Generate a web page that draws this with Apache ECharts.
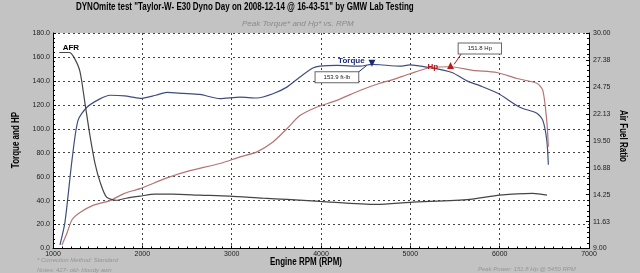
<!DOCTYPE html>
<html><head><meta charset="utf-8">
<script src="https://cdn.jsdelivr.net/npm/echarts@6/dist/echarts.min.js"></script>
<style>html,body{margin:0;padding:0;background:#c3c3c3}#c{width:640px;height:273px}</style>
</head><body><div id="c"></div>
<script>
const torqueRpm = [1078,1134,1213,1280,1380,1526,1638,1800,1974,2150,2276,2455,2645,2869,3093,3283,3462,3618,3764,3909,3988,4178,4435,4570,4659,4883,4995,5219,5465,5633,5778,5980,6226,6416,6483,6528,6545];
const torque    = [3,22,74,107,118,125,128,127.5,125.4,128,130.4,129.6,128.7,125.2,126.5,125.7,129.3,134.8,143.2,150.7,152.3,152.9,152.3,153.8,153.5,152.3,153.3,151,147,140,136,129.6,118,113,107,90,70];
const hpRpm = [1100,1157,1213,1302,1448,1638,1800,1974,2276,2533,2869,3093,3283,3462,3618,3764,3950,4178,4435,4659,4804,4995,5219,5450,5700,5968,6192,6416,6483,6528,6545];
const hp    = [3,13,24,30,36,40,46,50,59,65,71,76.5,80.7,89,100,111,118,123.75,132,138,141,146,151,151.8,148.75,147,142,138,132,106,85];
const afrRpm = [1070,1180,1230,1300,1358,1410,1470,1530,1600,1710,1820,1974,2140,2340,2645,2980,3350,3620,3988,4625,4995,5665,6000,6370,6530];
const afr    = [28.1,28.1,27.7,26.3,23.15,20.2,17.3,15.4,14.0,13.7,13.9,14.1,14.3,14.3,14.2,14.1,13.9,13.78,13.6,13.3,13.5,13.78,14.2,14.37,14.2];
const rpmTicks = [1000,2000,3000,4000,5000,6000,7000];
const peakTorque = {rpm: 4570, value: 153.8, label: '153.9 ft-lb'};
const peakHp = {rpm: 5450, value: 151.8, label: '151.8 Hp'};

const zip = (a,b) => a.map((x,i)=>[x,b[i]]);
const F = 'Liberation Sans';
const chart = echarts.init(document.getElementById('c'), null, {renderer:'canvas'});
const dotted = {show:true, lineStyle:{color:'#444', type:[2,3], width:1}};
const narrowBold = (text, x, y, rot, align) => ({type:'text', x, y, rotation:rot||0, scaleX:0.8,
  style:{text, fontFamily:F, fontWeight:'bold', fontSize:10, fill:'#000', textAlign:align||'center', textVerticalAlign:'middle'}});
chart.setOption({
  animation:false,
  backgroundColor:'#c3c3c3',
  textStyle:{fontFamily:F},
  graphic:[
    narrowBold('DYNOmite test "Taylor-W- E30 Dyno Day on 2008-12-14 @ 16-43-51" by GMW Lab Testing', 76, 7, 0, 'left'),
    narrowBold('Engine RPM (RPM)', 306, 262),
    narrowBold('Torque and HP', 16, 140, Math.PI/2),
    narrowBold('Air Fuel Ratio', 623, 136, -Math.PI/2)
  ],
  title:[
    {text:'Peak Torque* and Hp* vs. RPM', left:237, top:15,
     textStyle:{fontFamily:F, fontStyle:'italic', fontWeight:'normal', fontSize:8, color:'#8a8a8a'}},
    {text:'* Correction Method: Standard', left:32, top:252,
     textStyle:{fontFamily:F, fontStyle:'italic', fontWeight:'normal', fontSize:6, color:'#959595'}},
    {text:'Notes: 427- old- bloody awn', left:32, top:262,
     textStyle:{fontFamily:F, fontStyle:'italic', fontWeight:'normal', fontSize:6, color:'#959595'}},
    {text:'Peak Power: 151.8 Hp @ 5450 RPM', left:473, top:261,
     textStyle:{fontFamily:F, fontStyle:'italic', fontWeight:'normal', fontSize:6, color:'#959595'}}
  ],
  grid:{left:53, right:51, top:33, bottom:24.5, show:true, backgroundColor:'#fff', borderWidth:0},
  xAxis:{type:'value', min:1000, max:7000, interval:1000,
    axisLine:{lineStyle:{color:'#000'}}, axisTick:{show:true, length:3, inside:true, lineStyle:{color:'#000'}},
    minorTick:{show:true, splitNumber:10, length:2},
    axisLabel:{fontSize:7, color:'#222', margin:2, formatter:v=>String(v)},
    splitLine:dotted},
  yAxis:[
    {type:'value', min:0, max:180, interval:20, position:'left',
     axisLine:{show:true, lineStyle:{color:'#000'}}, axisTick:{show:true, length:3, inside:true, lineStyle:{color:'#000'}},
     minorTick:{show:true, splitNumber:5, length:2},
     axisLabel:{fontSize:7, color:'#222', margin:3, formatter:v=>v.toFixed(1)},
     splitLine:dotted},
    {type:'value', min:9, max:30, interval:2.625, position:'right',
     axisLine:{show:true, lineStyle:{color:'#000'}}, axisTick:{show:true, length:3, inside:true, lineStyle:{color:'#000'}},
     minorTick:{show:true, splitNumber:5, length:2},
     axisLabel:{fontSize:7, color:'#222', margin:4, formatter:v=>v.toFixed(2)},
     splitLine:{show:false}}
  ],
  series:[
    {name:'Torque', type:'line', yAxisIndex:0, data:zip(torqueRpm,torque), smooth:0.25, showSymbol:false,
     lineStyle:{color:'#3f4d7e', width:1.2}, itemStyle:{color:'#3f4d7e'},
     markPoint:{symbol:'triangle', symbolSize:7, symbolRotate:180, itemStyle:{color:'#1c2a7a'},
       data:[
         {coord:[peakTorque.rpm, peakTorque.value+1], label:{show:false}},
         {coord:[4340,157], symbolSize:0, label:{show:true, formatter:'Torque', color:'#1c2a7a', fontWeight:'bold', fontSize:8, fontFamily:F}},
         {coord:[4178,143], symbolSize:0, label:{show:true, formatter:peakTorque.label, color:'#222', fontSize:6, fontFamily:F,
           backgroundColor:'#fff', borderColor:'#666', borderWidth:1, padding:[2,8,2,8]}}
       ]},
     markLine:{silent:true, symbol:'none', label:{show:false}, lineStyle:{color:'#1c2a7a', type:'solid', width:1},
       data:[[{coord:[4380,145]},{coord:[peakTorque.rpm-60,peakTorque.value-1]}]]}
    },
    {name:'Hp', type:'line', yAxisIndex:0, data:zip(hpRpm,hp), smooth:0.25, showSymbol:false,
     lineStyle:{color:'#b57474', width:1.2}, itemStyle:{color:'#b57474'},
     markPoint:{symbol:'triangle', symbolSize:7, itemStyle:{color:'#c01818'},
       data:[
         {coord:[peakHp.rpm, peakHp.value+1], label:{show:false}},
         {coord:[5252,152], symbolSize:0, label:{show:true, formatter:'Hp', color:'#b01818', fontWeight:'bold', fontSize:8, fontFamily:F}},
         {coord:[5778,167], symbolSize:0, label:{show:true, formatter:peakHp.label, color:'#222', fontSize:6, fontFamily:F,
           backgroundColor:'#fff', borderColor:'#666', borderWidth:1, padding:[2,9,2,9]}}
       ]},
     markLine:{silent:true, symbol:'none', label:{show:false}, lineStyle:{color:'#c01818', type:'solid', width:1},
       data:[[{coord:[5570,162.5]},{coord:[peakHp.rpm+40,peakHp.value+2]}]]}
    },
    {name:'AFR', type:'line', yAxisIndex:1, data:zip(afrRpm,afr), smooth:0.25, showSymbol:false,
     lineStyle:{color:'#454545', width:1.2}, itemStyle:{color:'#454545'},
     markPoint:{symbolSize:0, data:[
       {coord:[1200,28.6], label:{show:true, formatter:'AFR', color:'#000', fontWeight:'bold', fontSize:8, fontFamily:F}}
     ]}
    }
  ]
});
</script></body></html>
